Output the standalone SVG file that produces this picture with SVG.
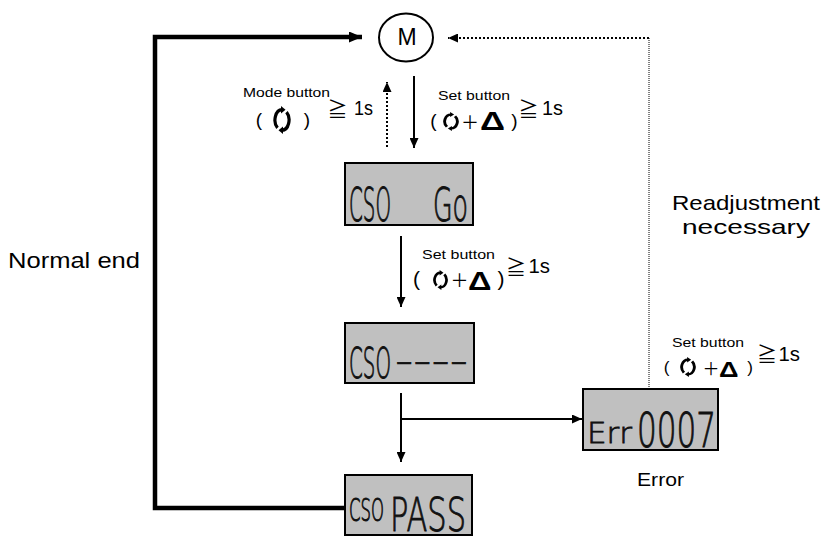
<svg xmlns="http://www.w3.org/2000/svg" xmlns:xlink="http://www.w3.org/1999/xlink" width="826" height="536" viewBox="0 0 826 536">
<style>
.t{font-family:"Liberation Sans",Arial,sans-serif;fill:#000}
.cjk{font-family:"Noto Sans CJK JP",sans-serif;fill:#000}
.lcdbox{fill:#c0c0c0;stroke:#000;stroke-width:2}
.lcd{font-family:"DejaVu Sans",sans-serif;font-weight:200;fill:#111;stroke:#111;stroke-width:0.8;vector-effect:non-scaling-stroke}
.ln{fill:none;stroke:#000;stroke-width:2}
.thick{fill:none;stroke:#000;stroke-width:4.5}
.dot{fill:none;stroke:#000;stroke-width:2;stroke-dasharray:2 2}
.dot1{fill:none;stroke:#000;stroke-width:1;stroke-dasharray:1 1}
</style>
<defs>
<marker id="ah" markerUnits="userSpaceOnUse" markerWidth="10" markerHeight="9" refX="10" refY="4.5" orient="auto" viewBox="0 0 10 9"><path d="M0,0 L10,4.5 L0,9 z" fill="#000"/></marker>
<marker id="ahb" markerUnits="userSpaceOnUse" markerWidth="13" markerHeight="11" refX="13" refY="5.5" orient="auto" viewBox="0 0 13 11"><path d="M0,0 L13,5.5 L0,11 z" fill="#000"/></marker>
<symbol id="rot" viewBox="0 0 20 26" preserveAspectRatio="none">
<path d="M5.5,20.3 A7,9.5 0 0 1 10,3.5" fill="none" stroke="#000" stroke-width="3.2"/>
<polygon points="9,0 13.5,3.5 9,7" fill="#000"/>
<path d="M14.5,5.7 A7,9.5 0 0 1 10,22.5" fill="none" stroke="#000" stroke-width="3.2"/>
<polygon points="11,19 6.5,22.5 11,26" fill="#000"/>
</symbol>
</defs>
<rect width="826" height="536" fill="#fff"/>

<g id="connectors">
<path class="thick" d="M345,508 H155 V37 H362" marker-end="url(#ahb)"/>
<path class="dot" d="M649,38 H448" marker-end="url(#ah)"/>
<path class="dot1" d="M649,389 V38"/>
<path class="dot" d="M387,147 V82" marker-end="url(#ah)"/>
<line class="ln" x1="414" y1="76" x2="414" y2="148" marker-end="url(#ah)"/>
<line class="ln" x1="401" y1="236" x2="401" y2="307" marker-end="url(#ah)"/>
<line class="ln" x1="401" y1="393" x2="401" y2="462" marker-end="url(#ah)"/>
<line class="ln" x1="401" y1="419" x2="582" y2="419" marker-end="url(#ah)"/>
</g>

<g id="node-M">
<ellipse cx="406" cy="37.5" rx="27" ry="24" fill="#fff" stroke="#000" stroke-width="2"/>
<text class="t" x="407" y="45" font-size="23" text-anchor="middle">M</text>
</g>

<g id="node-cso-go">
<rect class="lcdbox" x="345" y="163" width="128" height="62"/>
<text class="lcd" transform="translate(349,221) scale(0.4307,1)" font-size="46">CSO</text>
<text class="lcd" transform="translate(433,221) scale(0.5486,1)" font-size="46">Go</text>
</g>

<g id="node-cso-dash">
<rect class="lcdbox" x="345" y="323" width="129" height="60"/>
<text class="lcd" transform="translate(349,378) scale(0.4607,1)" font-size="43">CSO</text>
<text class="lcd" transform="translate(395,375) scale(1.1755,1)" font-size="43">----</text>
</g>

<g id="node-cso-pass">
<rect class="lcdbox" x="345" y="475" width="127" height="60"/>
<text class="lcd" transform="translate(349,521) scale(0.516,1)" font-size="32">CSO</text>
<text class="lcd" transform="translate(390,531) scale(0.649,1)" font-size="47">PASS</text>
</g>

<g id="node-err">
<rect class="lcdbox" x="583" y="389" width="135" height="61"/>
<text class="lcd" transform="translate(587,443) scale(1.067,1)" font-size="29">Err</text>
<text class="lcd" transform="translate(637,447) scale(0.647,1)" font-size="48">0007</text>
<text class="t" x="637" y="486" font-size="18" textLength="47" lengthAdjust="spacingAndGlyphs">Error</text>
</g>

<g id="labels">
<text class="t" x="8" y="268" font-size="22" textLength="132" lengthAdjust="spacingAndGlyphs">Normal end</text>
<text class="t" x="672" y="210" font-size="21" textLength="148" lengthAdjust="spacingAndGlyphs">Readjustment</text>
<text class="t" x="682" y="234" font-size="21" textLength="128" lengthAdjust="spacingAndGlyphs">necessary</text>

<!-- Mode button label -->
<text class="t" x="243" y="97" font-size="13" textLength="87" lengthAdjust="spacingAndGlyphs">Mode button</text>
<text class="t" x="259" y="126" font-size="19" text-anchor="middle">(</text>
<use xlink:href="#rot" x="272" y="106" width="20" height="28"/>
<text class="t" x="307" y="126" font-size="19" text-anchor="middle">)</text>
<text class="cjk" x="337.5" y="117" font-size="20" text-anchor="middle">≧</text>
<text class="t" x="354" y="115" font-size="20" textLength="19" lengthAdjust="spacingAndGlyphs">1s</text>

<!-- Set button label near M -->
<text class="t" x="438" y="100" font-size="13.5" textLength="72" lengthAdjust="spacingAndGlyphs">Set button</text>
<text class="t" x="433.5" y="127" font-size="19" text-anchor="middle">(</text>
<use xlink:href="#rot" x="442" y="112" width="18" height="19"/>
<text class="cjk" x="470" y="128.5" font-size="18" text-anchor="middle">＋</text>
<text class="t" x="480" y="130" font-size="25" font-weight="bold" textLength="25" lengthAdjust="spacingAndGlyphs">Δ</text>
<text class="t" x="514.5" y="127" font-size="19" text-anchor="middle">)</text>
<text class="cjk" x="528.5" y="117" font-size="20" text-anchor="middle">≧</text>
<text class="t" x="542" y="115" font-size="20" textLength="21" lengthAdjust="spacingAndGlyphs">1s</text>

<!-- Set button label below first display -->
<text class="t" x="422" y="259" font-size="13.5" textLength="73" lengthAdjust="spacingAndGlyphs">Set button</text>
<text class="t" x="416.5" y="285.5" font-size="21" text-anchor="middle">(</text>
<use xlink:href="#rot" x="432" y="270" width="17" height="20"/>
<text class="cjk" x="459.5" y="287" font-size="18" text-anchor="middle">＋</text>
<text class="t" x="468" y="290" font-size="25" font-weight="bold" textLength="23.5" lengthAdjust="spacingAndGlyphs">Δ</text>
<text class="t" x="501" y="285.5" font-size="21" text-anchor="middle">)</text>
<text class="cjk" x="516" y="275" font-size="20" text-anchor="middle">≧</text>
<text class="t" x="528.5" y="273" font-size="20" textLength="21.5" lengthAdjust="spacingAndGlyphs">1s</text>

<!-- Set button label near error -->
<text class="t" x="672" y="347" font-size="13.5" textLength="72" lengthAdjust="spacingAndGlyphs">Set button</text>
<text class="t" x="666.5" y="373" font-size="17" text-anchor="middle">(</text>
<use xlink:href="#rot" x="679" y="357" width="18" height="20"/>
<text class="cjk" x="711" y="375" font-size="17" text-anchor="middle">＋</text>
<text class="t" x="719" y="377" font-size="22" font-weight="bold" textLength="19.5" lengthAdjust="spacingAndGlyphs">Δ</text>
<text class="t" x="750" y="373" font-size="17" text-anchor="middle">)</text>
<text class="cjk" x="767" y="362" font-size="20" text-anchor="middle">≧</text>
<text class="t" x="778.5" y="360.5" font-size="20" textLength="21.5" lengthAdjust="spacingAndGlyphs">1s</text>
</g>
</svg>
